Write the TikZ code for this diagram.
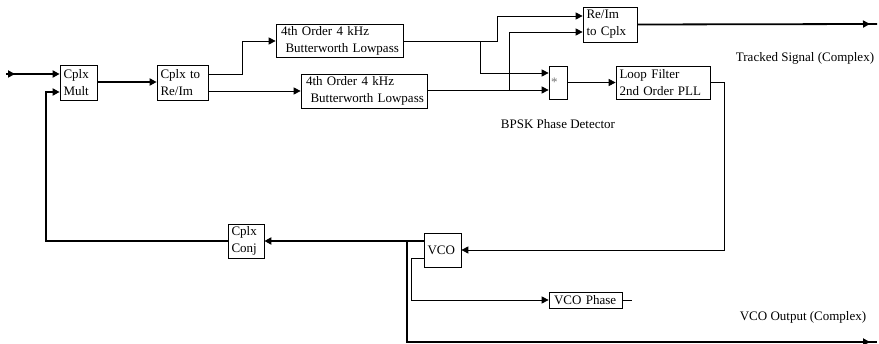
\documentclass[tikz,border=0pt]{standalone}
\usepackage{fontspec}
\setmainfont{Liberation Serif}
\usetikzlibrary{arrows.meta,decorations.markings}
\begin{document}
\begin{tikzpicture}[x=1pt,y=-1pt,
  every node/.style={font=\fontsize{13}{17}\selectfont},
  blk/.style={draw, line width=0.7pt, rectangle, inner xsep=3.5pt, inner ysep=0pt, align=left},
  tip/.style={-{Triangle[length=7pt,width=7pt]}},
  thin/.style={line width=0.8pt},
  thk/.style={line width=1.8pt},
  marktip/.style={postaction=decorate, decoration={markings, mark=at position #1 with {\arrow{Triangle[length=7pt,width=7pt]}}}},
  lbl/.style={inner sep=0pt}
]
\useasboundingbox (0,0) rectangle (879,344);
% boxes (center, size)
\node[blk, minimum width=37pt, minimum height=35pt, text width=30pt] (mult) at (78.5,82.5) {Cplx\\Mult};
\node[blk, minimum width=51pt, minimum height=35pt, text width=44pt] (c2r) at (182.5,82.5) {\mbox{Cplx to}\\Re/Im};
\node[blk, minimum width=127pt, minimum height=33pt, text width=120pt] (lpfa) at (339.5,40.5) {\mbox{\hspace*{1.5pt}4th Order 4 kHz}\\\mbox{\hspace*{6pt}Butterworth Lowpass}};
\node[blk, minimum width=126pt, minimum height=34pt, text width=119pt] (lpfb) at (364,91) {\mbox{\hspace*{1.5pt}4th Order 4 kHz}\\\mbox{\hspace*{6pt}Butterworth Lowpass}};
\node[blk, minimum width=18pt, minimum height=33pt, text width=14pt, inner xsep=2pt] (mul) at (558,82.5) {\textcolor{black!55}{*}};
\node[blk, minimum width=54pt, minimum height=35pt, text width=47pt] (r2c) at (610,24.5) {Re/Im\\\mbox{to Cplx}};
\node[blk, minimum width=94pt, minimum height=33pt, text width=87pt] (loop) at (663,82.5) {\mbox{Loop Filter}\\\mbox{2nd Order PLL}};
\node[blk, minimum width=36pt, minimum height=34pt, text width=29pt] (conj) at (246,241) {Cplx\\Conj};
\node[blk, minimum width=37pt, minimum height=34pt, text width=30pt] (vco) at (442.5,250) {VCO};
\node[blk, minimum width=73pt, minimum height=16pt, text width=66pt, inner ysep=0pt] (vph) at (585.5,300) {\mbox{\hspace*{1.5pt}VCO Phase}};
% labels
\node[lbl] (t1) at (805,58) {Tracked Signal (Complex)};
\node[lbl] (t2) at (558,124) {BPSK Phase Detector};
\node[lbl] (t3) at (803,317) {VCO Output (Complex)};
% free ends
\coordinate (inp) at (6,74);
\coordinate (outa) at (877,24);
\coordinate (outb) at (877,342);
\coordinate (vphend) at (632,300);
% thick connectors
\draw[thk, tip, marktip=9pt] (inp) -- (mult.west |- inp);
\draw[line width=2.4pt, tip] (mult.east |- 0,82) -- (c2r.west |- 0,82);
\draw[thk, tip] (conj.west) -- (46,241) -- (46,92) -- (mult.west |- 0,92);
\draw[thk, tip] (vco.west |- 0,241) -- (conj.east);
\draw[thk, marktip=-7pt] (407,241) -- (407,342) -- (outb);
\draw[thk, marktip=-7pt] (r2c.east) -- (outa);
% thin connectors
\draw[thin, tip] (c2r.east |- 0,74) -- (242,74) -- (242,41) -- (lpfa.west |- 0,41);
\draw[thin, tip] (c2r.east |- 0,91) -- (lpfb.west |- 0,91);
\draw[thin, tip] (lpfa.east |- 0,41) -- (480,41) -- (480,73) -- (mul.west |- 0,73);
\draw[thin, tip] (480,41) -- (497,41) -- (497,16) -- (r2c.west |- 0,16);
\draw[thin, tip] (lpfb.east |- 0,90) -- (mul.west |- 0,90);
\draw[thin, tip] (509,90) -- (509,32) -- (r2c.west |- 0,32);
\draw[thin, tip] (mul.east) -- (loop.west);
\draw[thin, tip] (loop.east) -- (724,82.5) -- (724,250) -- (vco.east);
\draw[thin, tip] (vco.west |- 0,258) -- (411,258) -- (411,300) -- (vph.west);
\draw[thin] (vph.east) -- (vphend);
\end{tikzpicture}
\end{document}
